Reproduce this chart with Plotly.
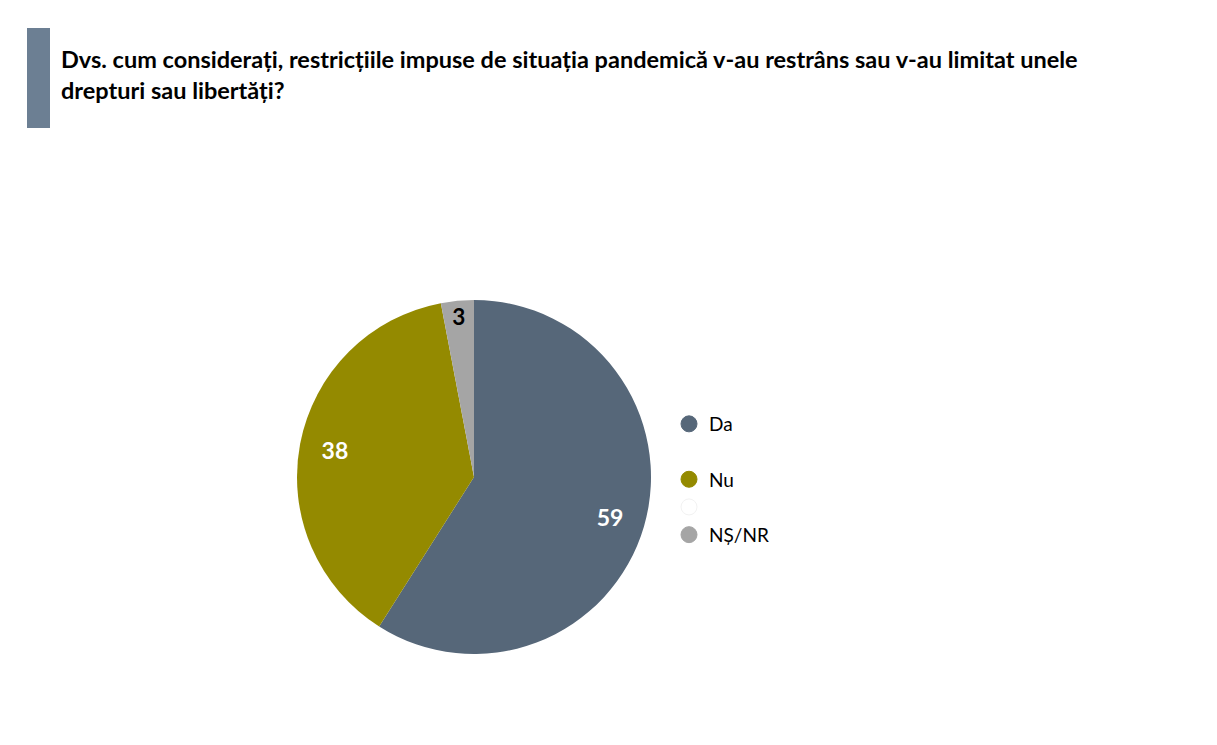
import plotly.graph_objects as go

# survey answers (%)
labels = ['Da', 'Nu', 'NȘ/NR']
values = [59, 38, 3]
colors = ['#566779', '#948A00', '#A5A5A5']
text_colors = ['white', 'white', 'black']

# legend rows, blanks included the way the source shows them
legend_names = ['Da', ' ', 'Nu', '  ', 'NȘ/NR']
legend_colors = ['#566779', 'rgba(0,0,0,0)', '#948A00', '#FFFFFF', '#A5A5A5']
legend_lines = ['#566779', 'rgba(0,0,0,0)', '#948A00', '#F2F2F2', '#A5A5A5']

title = ('Dvs. cum considerați, restricțiile impuse de situația pandemică v-au restrâns sau v-au limitat unele'
         '<br>drepturi sau libertăți?')

W, H = 1217, 745
OFF = 8  # page margin the browser adds around the plot

def px(x):
    return (x - OFF) / W

def py(y):
    return 1 - (y - OFF) / H

cx, cy, r = 474, 477, 177
dom = dict(x=[px(cx - r), px(cx + r)], y=[py(cy + r), py(cy - r)])

fig = go.Figure()
# the coloured disc
fig.add_trace(go.Pie(
    labels=labels, values=values, sort=False, direction='clockwise', rotation=0,
    marker=dict(colors=colors), textinfo='none', showlegend=False,
    hoverinfo='label+value', domain=dom,
))
# same slices, see-through, only to carry the numbers further out
fig.add_trace(go.Pie(
    labels=labels, values=values, sort=False, direction='clockwise', rotation=0, hole=0.6,
    marker=dict(colors=['rgba(0,0,0,0)'] * 3, line=dict(width=0)),
    textinfo='value', textposition='inside', insidetextorientation='horizontal',
    textfont=dict(family='Lato', size=23, color=text_colors, weight='bold'),
    showlegend=False, hoverinfo='skip', domain=dom,
))

for name, c, lc in zip(legend_names, legend_colors, legend_lines):
    fig.add_trace(go.Scatter(x=[None], y=[None], mode='markers', name=name,
                             marker=dict(color=c, size=16, symbol='circle', line=dict(color=lc, width=1))))

fig.add_shape(type='rect', xref='paper', yref='paper',
              x0=px(27), x1=px(50), y0=py(128), y1=py(28),
              fillcolor='#6C7F93', line=dict(width=0))
fig.add_annotation(text=title, xref='paper', yref='paper', x=px(59), y=py(43),
                   xanchor='left', yanchor='top', align='left', showarrow=False,
                   font=dict(family='Lato', size=23.5, color='black', weight='bold'))

fig.update_layout(
    width=W, height=H, margin=dict(l=0, r=0, t=0, b=0),
    paper_bgcolor='white', plot_bgcolor='white',
    xaxis=dict(visible=False), yaxis=dict(visible=False),
    legend=dict(x=661 / W, y=1 - 397 / H, xanchor='left', yanchor='top',
                font=dict(family='Lato', size=19, color='black'), bgcolor='rgba(0,0,0,0)'),
)

fig.write_html('out.html')
